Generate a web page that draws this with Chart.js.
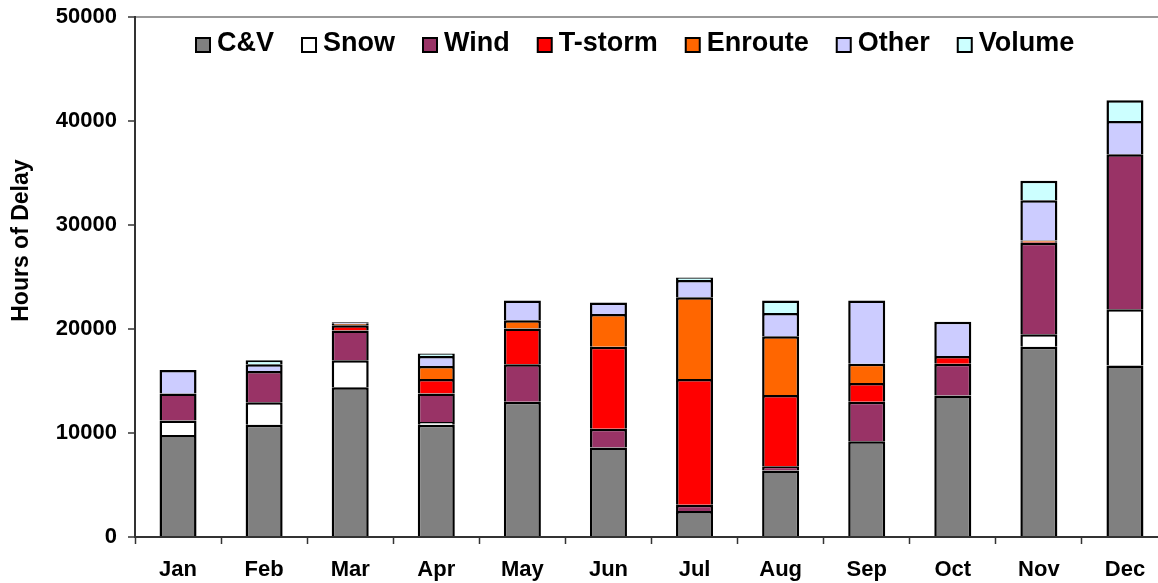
<!DOCTYPE html>
<html lang="en">
<head>
  <meta charset="UTF-8" />
  <title>Hours of Delay by Cause</title>
  <script src="https://cdn.jsdelivr.net/npm/chart.js"></script>
  <style>
    body { margin: 0; background: #fff; overflow: hidden; }
    #wrap { width: 1170px; height: 583px; }
  </style>
</head>
<body>
  <div id="wrap">
    <canvas id="delayChart" width="1170" height="583"></canvas>
  </div>

  <script>
    // months on the x axis
    const months = ['Jan', 'Feb', 'Mar', 'Apr', 'May', 'Jun', 'Jul', 'Aug', 'Sep', 'Oct', 'Nov', 'Dec'];

    // hours of delay per cause (bottom to top)
    const cvHours      = [9800, 10800, 14400, 10800, 13000, 8600, 2500, 6400, 9200, 13600, 18300, 16500];
    const snowHours    = [1400, 2150, 2600, 250, 0, 0, 0, 0, 0, 0, 1200, 5400];
    const windHours    = [2600, 3000, 2850, 2750, 3600, 1800, 600, 400, 3800, 3050, 8800, 14900];
    const tstormHours  = [0, 0, 500, 1400, 3450, 7900, 12100, 6850, 1800, 750, 100, 0];
    const enrouteHours = [0, 0, 150, 1250, 800, 3150, 7850, 5650, 1850, 0, 100, 0];
    const otherHours   = [2250, 650, 150, 950, 1900, 1100, 1650, 2250, 6100, 3300, 3870, 3200];
    const volumeHours  = [0, 400, 0, 250, 0, 0, 250, 1200, 0, 0, 1890, 2000];

    const yTicks = [0, 10000, 20000, 30000, 40000, 50000];

    const boldFont = "'Liberation Sans', Arial, sans-serif";

    function bar(label, data, color) {
      return {
        label: label,
        data: data,
        backgroundColor: color,
        borderColor: '#000',
        borderWidth: 2.5,
        barPercentage: 0.43,
        categoryPercentage: 1.0
      };
    }

    // legend drawn inside the plot along the top, y title a bit above centre
    const extras = {
      id: 'extras',
      afterDraw(chart) {
        const ctx = chart.ctx;
        const area = chart.chartArea;
        ctx.save();
        ctx.font = 'bold 27px ' + boldFont;
        ctx.textBaseline = 'middle';
        let x = area.left + 61;
        const y = area.top + 27;
        chart.data.datasets.forEach(ds => {
          ctx.fillStyle = ds.backgroundColor;
          ctx.fillRect(x, y - 6, 14, 14);
          ctx.strokeStyle = '#000';
          ctx.lineWidth = 2;
          ctx.strokeRect(x, y - 6, 14, 14);
          x += 14 + 7;
          ctx.fillStyle = '#000';
          ctx.fillText(ds.label, x, y);
          x += ctx.measureText(ds.label).width + 28;
        });

        ctx.translate(22, area.top + area.height * 0.43);
        ctx.rotate(-Math.PI / 2);
        ctx.textAlign = 'center';
        ctx.font = 'bold 23px ' + boldFont;
        ctx.fillText('Hours of Delay', 0, 0);
        ctx.restore();
      }
    };

    new Chart(document.getElementById('delayChart'), {
      type: 'bar',
      data: {
        labels: months,
        datasets: [
          bar('C&V', cvHours, '#808080'),
          bar('Snow', snowHours, '#FFFFFF'),
          bar('Wind', windHours, '#993366'),
          bar('T-storm', tstormHours, '#FF0000'),
          bar('Enroute', enrouteHours, '#FF6600'),
          bar('Other', otherHours, '#CCCCFF'),
          bar('Volume', volumeHours, '#CCFFFF')
        ]
      },
      options: {
        responsive: false,
        animation: false,
        devicePixelRatio: 1,
        layout: { padding: { top: 17, right: 2, bottom: 0, left: 0 } },
        plugins: {
          legend: { display: false },
          tooltip: { enabled: false }
        },
        scales: {
          x: {
            stacked: true,
            afterFit: s => { s.height = 46; },
            grid: {
              offset: true,
              color: 'rgba(0,0,0,0)',
              tickColor: '#333',
              tickLength: 7,
              tickWidth: 1.5
            },
            border: { color: '#333', width: 2 },
            ticks: {
              color: '#000',
              padding: 13,
              font: { family: boldFont, size: 22, weight: 'bold' }
            }
          },
          y: {
            stacked: true,
            min: 0,
            max: 50000,
            afterFit: s => { s.width = 135; },
            afterBuildTicks: s => { s.ticks = yTicks.map(v => ({ value: v })); },
            grid: {
              color: ctx => ctx.tick && ctx.tick.value === 50000 ? '#999' : 'rgba(0,0,0,0)',
              lineWidth: 2,
              tickColor: '#333',
              tickLength: 7,
              tickWidth: 1.5
            },
            border: { color: '#333', width: 2 },
            ticks: {
              color: '#000',
              padding: 11,
              callback: v => String(v),
              font: { family: boldFont, size: 22, weight: 'bold', lineHeight: 0.5 }
            }
          }
        }
      },
      plugins: [extras]
    });
  </script>
</body>
</html>
